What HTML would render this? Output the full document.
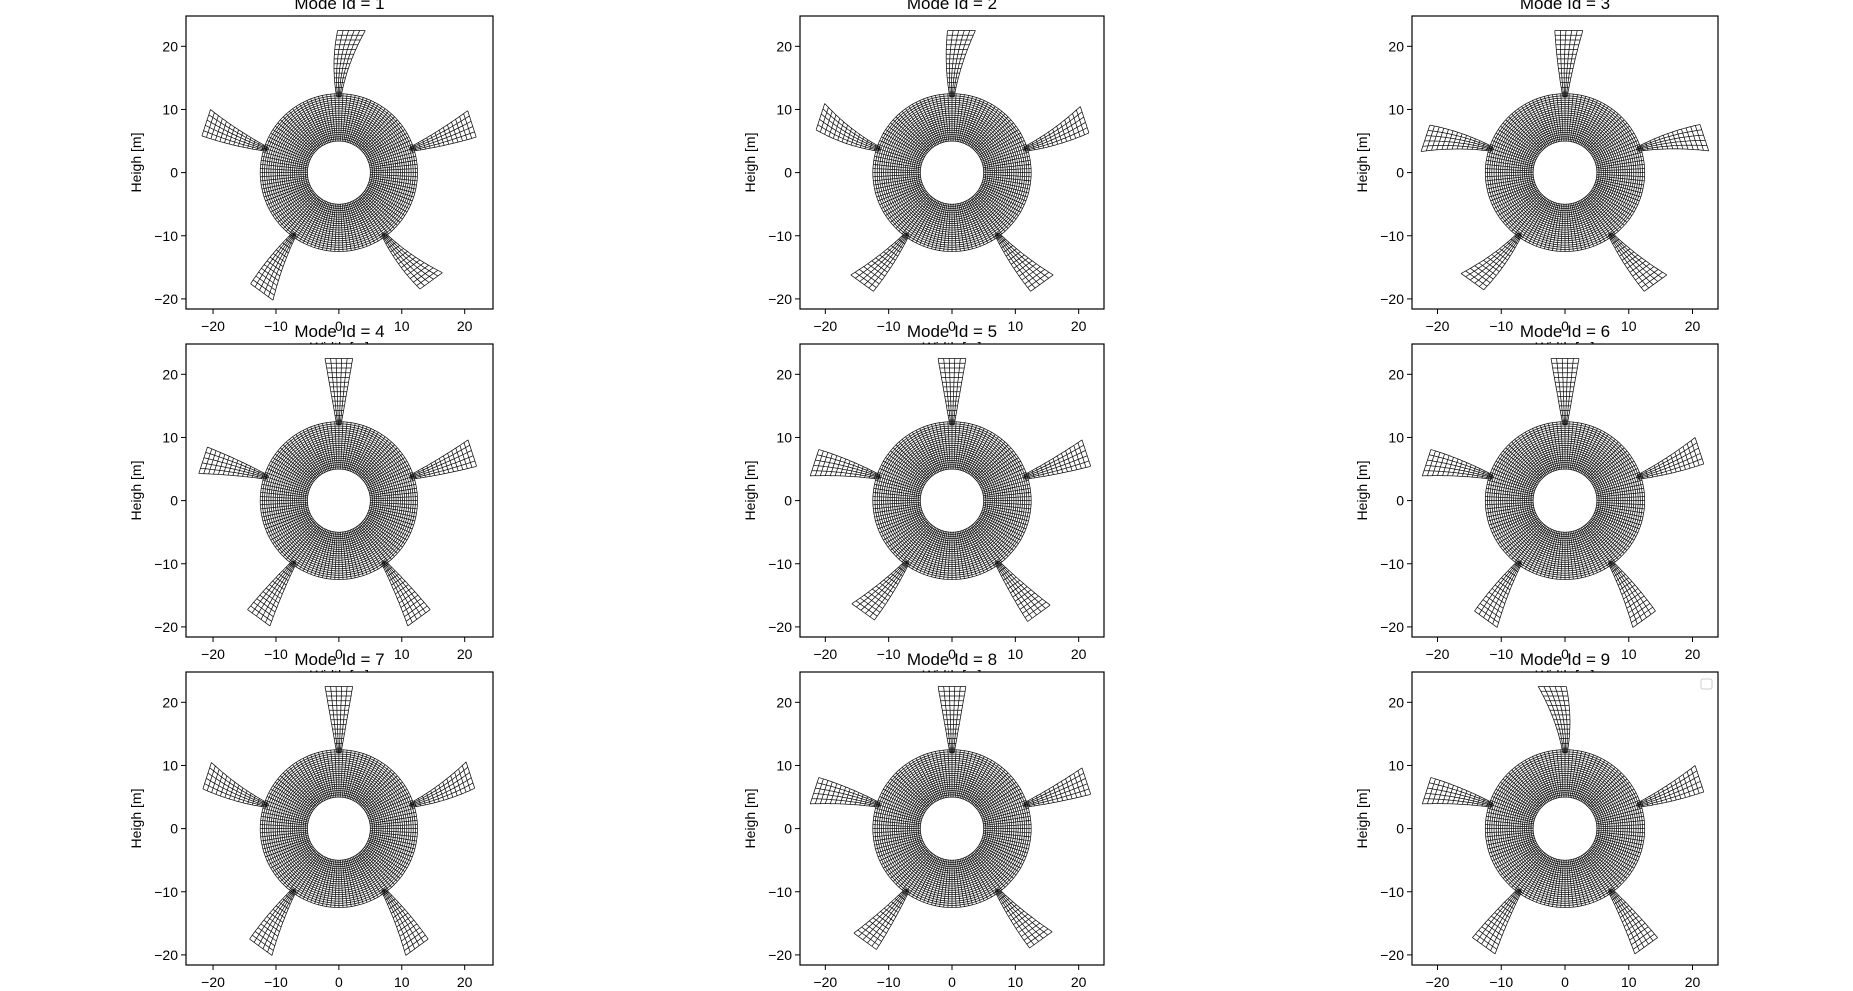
<!DOCTYPE html>
<html><head><meta charset="utf-8"><style>
html,body{margin:0;padding:0;background:#fff;}
svg{display:block;font-family:"Liberation Sans","DejaVu Sans",sans-serif;}
</style></head><body>
<svg id="fig" width="1853" height="991" viewBox="0 0 1853 991" xmlns="http://www.w3.org/2000/svg"></svg>
<script>
// data
const modeIds = [1,2,3,4,5,6,7,8,9];
const bladeAnglesDeg = [90, 18, -54, -126, 162];
// tangential tip deflection (m) per mode for blades [top,right,lower-right,lower-left,left]
const tipDefl = [
  [-2.0, 0.8, 1.8, 1.2, -1.0],
  [-1.5, 1.5, 1.2, -1.2, -2.0],
  [-0.6, -1.5, 1.2, -1.6, 1.6],
  [0.0, 0.6, -0.6, 0.6, 0.6],
  [0.0, 0.6, 0.6, -1.0, 1.0],
  [0.0, 1.0, -1.0, 1.0, 1.0],
  [0.0, 1.6, -1.0, 1.0, -1.5],
  [0.0, 0.6, 1.0, -0.6, 1.0],
  [2.0, 1.0, -0.6, 0.6, 1.0]
];
const xTicks = [-20,-10,0,10,20];
const yTicks = [-20,-10,0,10,20];
const xLimCol = [[-24.3,24.5],[-24,24],[-24,24]];
const yLim = [-21.6,24.8];

const NS='http://www.w3.org/2000/svg';
const svg=document.getElementById('fig');
function mk(tag,attrs,parent){const e=document.createElementNS(NS,tag);for(const k in attrs)e.setAttribute(k,attrs[k]);(parent||svg).appendChild(e);return e;}
const colsX=[[186,493],[800,1104],[1412,1718]];
const rowsY=[[16,309],[344,637],[672,965]];

modeIds.forEach((m,i)=>{
  const r=Math.floor(i/3),c=i%3;
  const xLim=xLimCol[c];
  const L=colsX[c][0],R=colsX[c][1],T=rowsY[r][0],B=rowsY[r][1];
  const sx=x=>L+(x-xLim[0])/(xLim[1]-xLim[0])*(R-L);
  const sy=y=>B-(y-yLim[0])/(yLim[1]-yLim[0])*(B-T);
  const g=mk('g',{});
  
  
  const bg=mk('rect',{x:L,y:T,width:R-L,height:B-T,fill:'#fff'},g);
  
  
  const cp=mk('clipPath',{id:'cp'+i},g);
  mk('rect',{x:L,y:T,width:R-L,height:B-T},cp);
  const mesh=mk('g',{'clip-path':'url(#cp'+i+')',stroke:'#111','stroke-width':0.75,fill:'none'},g);
  
  
  let d='';
  const ri=5,ro=12.5,nr=22,nt=120;
  for(let k=0;k<=nr;k++){const rr=ri+(ro-ri)*k/nr;d+=`M${sx(rr)} ${sy(0)}`;
    for(let a=1;a<=120;a++){const t=a/120*2*Math.PI;d+=`L${sx(rr*Math.cos(t)).toFixed(1)} ${sy(rr*Math.sin(t)).toFixed(1)}`;}}
  for(let a=0;a<nt;a++){const t=a/nt*2*Math.PI;d+=`M${sx(ri*Math.cos(t)).toFixed(1)} ${sy(ri*Math.sin(t)).toFixed(1)}L${sx(ro*Math.cos(t)).toFixed(1)} ${sy(ro*Math.sin(t)).toFixed(1)}`;}
  const ann=mk('path',{d:d},mesh);
  
  
  bladeAnglesDeg.forEach((ang,b)=>{
    const th=ang*Math.PI/180, ux=Math.cos(th), uy=Math.sin(th), vx=-uy, vy=ux;
    const r0=12,r1=22.5,nrow=14,ncol=5,def=tipDefl[i][b];
    const P=(s,w)=>{const rr=r0+(r1-r0)*s;const hw=0.35+1.85*s;const off=def*s*s+w*hw;
      return [sx(rr*ux+off*vx),sy(rr*uy+off*vy)];};
    let bd='';
    for(let k=0;k<=nrow;k++){const s=k/nrow;const a=P(s,-1),bb=P(s,1);bd+=`M${a[0].toFixed(1)} ${a[1].toFixed(1)}L${bb[0].toFixed(1)} ${bb[1].toFixed(1)}`;}
    for(let j=0;j<=ncol;j++){const w=-1+2*j/ncol;for(let k=0;k<=30;k++){const p=P(k/30,w);bd+=(k?'L':'M')+p[0].toFixed(1)+' '+p[1].toFixed(1);}}
    const bp=mk('path',{d:bd},mesh);
    
    
  });
  const fr=mk('rect',{x:L,y:T,width:R-L,height:B-T,fill:'none',stroke:'#000','stroke-width':1.2},g);
  
  
  xTicks.forEach(v=>{const x=sx(v);mk('line',{x1:x,y1:B,x2:x,y2:B+5,stroke:'#000'},g);
    const t=mk('text',{x:x,y:B+22,'font-size':14,'text-anchor':'middle'},g);t.textContent=(v<0?'\u2212'+(-v):v);
    
    });
  yTicks.forEach(v=>{const y=sy(v);mk('line',{x1:L,y1:y,x2:L-5,y2:y,stroke:'#000'},g);
    const t=mk('text',{x:L-8,y:y+5,'font-size':14,'text-anchor':'end'},g);t.textContent=(v<0?'\u2212'+(-v):v);
    
    });
  const xl=mk('text',{x:(L+R)/2,y:B+43,'font-size':14,'text-anchor':'middle'},g);xl.textContent='Width [m]';
  
  
  const yl=mk('text',{x:0,y:0,'font-size':14,'text-anchor':'middle',transform:`translate(${L-45},${(T+B)/2}) rotate(-90)`},g);yl.textContent='Heigh [m]';
  
  
  const tt=mk('text',{x:(L+R)/2,y:T-7,'font-size':17,'text-anchor':'middle'},g);tt.textContent='Mode Id = '+m;
  
  
  if(m===9){const lg=mk('rect',{x:R-17,y:T+7,width:11,height:10,rx:2,fill:'#fff',stroke:'#ccc'},g);
    
    }
});
</script>
</body></html>
